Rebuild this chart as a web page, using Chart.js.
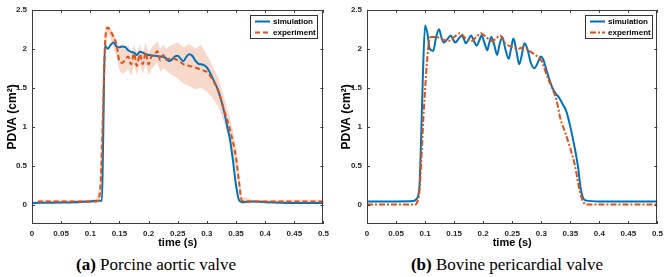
<!DOCTYPE html>
<html>
<head>
<meta charset="utf-8">
<script src="https://cdn.jsdelivr.net/npm/chart.js@4.4.1/dist/chart.umd.min.js"></script>
<style>
  body { margin: 0; background: #fff; }
  #wrap { position: relative; width: 668px; height: 277px; overflow: hidden; }
  .panel { position: absolute; top: 0; }
  .caption { position: absolute; top: 255px; font-family: 'Liberation Serif', serif; font-size: 17px; color: #000; white-space: nowrap; transform: translateX(-50%); }
</style>
</head>
<body>
<div id="wrap">
  <canvas id="chartA" class="panel" width="334" height="250" style="left:0"></canvas>
  <canvas id="chartB" class="panel" width="334" height="250" style="left:334px"></canvas>
  <div class="caption" style="left:156px"><b>(a)</b> Porcine aortic valve</div>
  <div class="caption" style="left:507px"><b>(b)</b> Bovine pericardial valve</div>
</div>
<script>
// axis ticks
const xTicks = [0, 0.05, 0.1, 0.15, 0.2, 0.25, 0.3, 0.35, 0.4, 0.45, 0.5];
const xTickLabels = ['0', '0.05', '0.1', '0.15', '0.2', '0.25', '0.3', '0.35', '0.4', '0.45', '0.5'];
const yTicks = [0, 0.5, 1, 1.5, 2, 2.5];
const yTickLabels = ['0', '0.5', '1', '1.5', '2', '2.5'];

// (a) porcine aortic valve
const timeSimA = [0, 0.05, 0.1, 0.115, 0.12, 0.122, 0.125, 0.13, 0.135, 0.14, 0.145, 0.15, 0.155, 0.16, 0.165, 0.17, 0.175, 0.18, 0.185, 0.19, 0.195, 0.2, 0.21, 0.22, 0.23, 0.235, 0.24, 0.245, 0.25, 0.255, 0.26, 0.265, 0.27, 0.275, 0.28, 0.285, 0.29, 0.295, 0.3, 0.31, 0.32, 0.33, 0.335, 0.34, 0.345, 0.35, 0.355, 0.36, 0.38, 0.4, 0.45, 0.5];
const simA = [0.02, 0.025, 0.04, 0.05, 0.05, 0.8, 2.04, 2.0, 2.05, 2.08, 2.03, 2.02, 2.03, 2.02, 1.98, 1.96, 1.95, 1.92, 1.96, 1.95, 1.93, 1.92, 1.91, 1.9, 1.88, 1.84, 1.86, 1.9, 1.91, 1.87, 1.84, 1.9, 1.93, 1.91, 1.85, 1.81, 1.8, 1.79, 1.76, 1.62, 1.45, 1.18, 1.0, 0.82, 0.55, 0.25, 0.06, 0.03, 0.04, 0.03, 0.02, 0.02];

const timeExpA = [0.01, 0.05, 0.1, 0.11, 0.115, 0.118, 0.122, 0.126, 0.13, 0.135, 0.14, 0.145, 0.15, 0.155, 0.16, 0.165, 0.17, 0.175, 0.18, 0.185, 0.19, 0.195, 0.2, 0.205, 0.21, 0.215, 0.22, 0.225, 0.23, 0.24, 0.25, 0.26, 0.27, 0.28, 0.29, 0.3, 0.31, 0.32, 0.33, 0.34, 0.35, 0.355, 0.36, 0.38, 0.4, 0.45, 0.5];
const expA = [0.04, 0.04, 0.04, 0.04, 0.08, 0.3, 1.2, 2.15, 2.27, 2.22, 2.15, 2.05, 1.84, 1.82, 1.86, 1.9, 1.8, 1.94, 1.78, 1.93, 1.8, 1.95, 1.8, 1.9, 1.92, 1.97, 1.85, 1.92, 1.86, 1.88, 1.85, 1.8, 1.78, 1.76, 1.73, 1.7, 1.6, 1.45, 1.2, 0.95, 0.6, 0.3, 0.05, 0.04, 0.04, 0.04, 0.04];
const expUpperA = [0.06, 0.06, 0.06, 0.07, 0.2, 0.8, 1.9, 2.3, 2.3, 2.26, 2.2, 2.12, 2.02, 2.05, 1.98, 2.05, 1.95, 2.05, 1.95, 2.05, 1.95, 2.08, 1.95, 2.02, 2.05, 2.1, 2.0, 2.05, 2.0, 2.05, 2.08, 2.02, 2.06, 2.0, 2.05, 1.92, 1.78, 1.62, 1.36, 1.1, 0.76, 0.45, 0.1, 0.06, 0.06, 0.06, 0.06];
const expLowerA = [0.02, 0.02, 0.02, 0.02, 0.03, 0.1, 0.6, 1.9, 2.2, 2.12, 2.0, 1.9, 1.72, 1.68, 1.7, 1.75, 1.65, 1.8, 1.66, 1.8, 1.68, 1.8, 1.66, 1.74, 1.78, 1.82, 1.7, 1.75, 1.72, 1.66, 1.62, 1.55, 1.52, 1.48, 1.5, 1.45, 1.36, 1.26, 1.04, 0.8, 0.45, 0.15, 0.01, 0.02, 0.02, 0.02, 0.02];

// (b) bovine pericardial valve
const timeSimB = [0, 0.05, 0.08, 0.085, 0.09, 0.093, 0.096, 0.1, 0.104, 0.108, 0.114, 0.119, 0.124, 0.128, 0.132, 0.138, 0.144, 0.148, 0.152, 0.157, 0.163, 0.167, 0.17, 0.175, 0.179, 0.184, 0.189, 0.193, 0.197, 0.202, 0.207, 0.21, 0.214, 0.219, 0.224, 0.228, 0.233, 0.238, 0.244, 0.248, 0.252, 0.257, 0.262, 0.266, 0.271, 0.276, 0.282, 0.288, 0.294, 0.299, 0.303, 0.31, 0.318, 0.325, 0.33, 0.336, 0.343, 0.35, 0.357, 0.363, 0.368, 0.373, 0.378, 0.4, 0.45, 0.5];
const simB = [0.04, 0.04, 0.045, 0.07, 0.2, 0.8, 1.6, 2.3, 2.2, 2.0, 1.97, 2.15, 2.25, 2.15, 2.08, 2.12, 2.17, 2.12, 2.08, 2.12, 2.17, 2.12, 2.07, 2.12, 2.17, 2.1, 2.04, 2.1, 2.17, 2.08, 1.98, 2.06, 2.15, 2.05, 1.92, 2.05, 2.15, 2.0, 1.87, 2.0, 2.13, 1.98, 1.8, 1.9, 2.07, 2.0, 1.82, 1.75, 1.82, 1.9, 1.87, 1.7, 1.52, 1.42, 1.38, 1.3, 1.2, 1.0, 0.75, 0.5, 0.2, 0.07, 0.05, 0.04, 0.04, 0.04];

const timeExpB = [0, 0.05, 0.083, 0.087, 0.09, 0.093, 0.097, 0.102, 0.106, 0.11, 0.12, 0.13, 0.14, 0.15, 0.16, 0.17, 0.18, 0.188, 0.196, 0.205, 0.215, 0.222, 0.229, 0.238, 0.25, 0.26, 0.27, 0.28, 0.29, 0.3, 0.31, 0.32, 0.326, 0.333, 0.341, 0.35, 0.358, 0.366, 0.372, 0.377, 0.4, 0.5];
const expB = [0, 0, 0, 0.04, 0.15, 0.5, 1.1, 1.7, 2.05, 2.15, 2.15, 2.12, 2.1, 2.15, 2.2, 2.13, 2.1, 2.15, 2.2, 2.15, 2.1, 2.13, 2.17, 2.07, 2.02, 2.0, 2.02, 1.97, 1.92, 1.85, 1.65, 1.47, 1.35, 1.1, 0.93, 0.72, 0.5, 0.18, 0.04, 0, 0, 0];

const BLUE = '#0072BD';
const ORANGE = '#D95319';
const BAND = 'rgba(217, 83, 25, 0.22)';

Chart.defaults.font.family = "'Liberation Sans', Arial, sans-serif";

function toPoints(times, values) {
    return times.map((t, i) => ({ x: t, y: values[i] }));
}

// MATLAB style box with inward ticks
const boxTicksPlugin = {
    id: 'boxTicks',
    afterDatasetsDraw(chart) {
        const { ctx, chartArea: a, scales: { x, y } } = chart;
        ctx.save();
        ctx.strokeStyle = '#3c3c3c';
        ctx.lineWidth = 1;
        ctx.strokeRect(Math.round(a.left) + 0.5, Math.round(a.top) + 0.5, Math.round(a.right - a.left) - 1, Math.round(a.bottom - a.top) - 1);
        ctx.beginPath();
        xTicks.forEach(v => {
            const px = Math.round(x.getPixelForValue(v)) + 0.5;
            ctx.moveTo(px, a.bottom); ctx.lineTo(px, a.bottom - 3);
            ctx.moveTo(px, a.top); ctx.lineTo(px, a.top + 3);
        });
        yTicks.forEach(v => {
            const py = Math.round(y.getPixelForValue(v)) + 0.5;
            ctx.moveTo(a.left, py); ctx.lineTo(a.left + 3, py);
            ctx.moveTo(a.right, py); ctx.lineTo(a.right - 3, py);
        });
        ctx.stroke();
        ctx.restore();
    }
};

// legend box inside the top right corner
const boxLegendPlugin = {
    id: 'boxLegend',
    afterDraw(chart, args, opts) {
        const { ctx, chartArea: a } = chart;
        const w = 67, h = 23;
        const left = Math.round(a.right - opts.gap - w);
        const top = Math.round(a.top + 5);
        ctx.save();
        ctx.fillStyle = '#fff';
        ctx.fillRect(left, top, w, h);
        ctx.strokeStyle = '#333';
        ctx.lineWidth = 1;
        ctx.strokeRect(left + 0.5, top + 0.5, w, h);
        ctx.font = "bold 8px 'Liberation Sans', Arial, sans-serif";
        ctx.textBaseline = 'middle';
        ctx.fillStyle = '#000';
        opts.items.forEach((name, i) => {
            const ds = chart.data.datasets.find(d => d.label === name);
            const cy = top + 6.5 + i * 11;
            ctx.beginPath();
            ctx.strokeStyle = ds.borderColor;
            ctx.lineWidth = 2;
            ctx.setLineDash(ds.borderDash || []);
            ctx.moveTo(left + 5, cy);
            ctx.lineTo(left + 20, cy);
            ctx.stroke();
            ctx.setLineDash([]);
            ctx.fillText(name, left + 23, cy + 0.5);
        });
        ctx.restore();
    }
};

function buildScales(yWidth) {
    return {
        x: {
            type: 'linear',
            min: 0,
            max: 0.5,
            afterBuildTicks: s => { s.ticks = xTicks.map(v => ({ value: v })); },
            afterFit: s => { s.height = 26; },
            grid: { display: false, drawTicks: false },
            border: { display: false },
            ticks: {
                padding: 5,
                autoSkip: false,
                maxRotation: 0,
                color: '#262626',
                font: { size: 8, weight: 'bold' },
                callback: (v, i) => xTickLabels[i]
            },
            title: {
                display: true,
                text: 'time (s)',
                color: '#000',
                font: { size: 11, weight: 'bold' },
                padding: { top: 0, bottom: 0 }
            }
        },
        y: {
            type: 'linear',
            min: -0.25,
            max: 2.5,
            afterBuildTicks: s => { s.ticks = yTicks.map(v => ({ value: v })); },
            afterFit: s => { s.width = yWidth; },
            grid: { display: false, drawTicks: false },
            border: { display: false },
            ticks: {
                padding: 5,
                color: '#262626',
                font: { size: 8, weight: 'bold' },
                callback: (v, i) => yTickLabels[i]
            },
            title: {
                display: true,
                text: 'PDVA (cm²)',
                color: '#000',
                font: { size: 12, weight: 'bold' },
                padding: { top: 5, bottom: 0 }
            }
        }
    };
}

function lineSet(label, times, values, color, dash) {
    return {
        label: label,
        data: toPoints(times, values),
        borderColor: color,
        borderWidth: 2,
        borderDash: dash,
        pointRadius: 0,
        fill: false,
        cubicInterpolationMode: 'monotone'
    };
}

function renderPanel(id, datasets, rightPad, yWidth, gap) {
    new Chart(document.getElementById(id), {
        type: 'line',
        data: { datasets: datasets },
        options: {
            responsive: false,
            animation: false,
            devicePixelRatio: 1,
            layout: { padding: { top: 5, right: rightPad, left: 0, bottom: 0 } },
            scales: buildScales(yWidth),
            plugins: {
                legend: { display: false },
                tooltip: { enabled: false },
                boxLegend: { items: ['simulation', 'experiment'], gap: gap }
            }
        },
        plugins: [boxTicksPlugin, boxLegendPlugin]
    });
}

renderPanel('chartA', [
    lineSet('experiment', timeExpA, expA, ORANGE, [5, 3]),
    lineSet('simulation', timeSimA, simA, BLUE, []),
    {
        label: 'upper',
        data: toPoints(timeExpA, expUpperA),
        borderWidth: 0,
        pointRadius: 0,
        backgroundColor: BAND,
        fill: '+1'
    },
    {
        label: 'lower',
        data: toPoints(timeExpA, expLowerA),
        borderWidth: 0,
        pointRadius: 0,
        fill: false
    }
], 9, 32, 6);

renderPanel('chartB', [
    lineSet('experiment', timeExpB, expB, ORANGE, [6, 2, 2, 2]),
    lineSet('simulation', timeSimB, simB, BLUE, [])
], 8, 33, 5);
</script>
</body>
</html>
